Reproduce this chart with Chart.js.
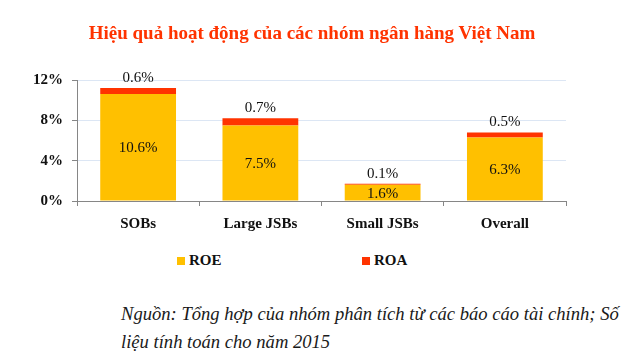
<!DOCTYPE html>
<html>
<head>
<meta charset="utf-8">
<script src="https://cdn.jsdelivr.net/npm/chart.js@4.4.1/dist/chart.umd.min.js"></script>
<style>
  html, body { margin: 0; padding: 0; background: #ffffff; }
  #wrap { position: relative; width: 640px; height: 354px; overflow: hidden; background: #fff; }
  #title { position: absolute; left: 0; top: 22px; width: 624px; text-align: center;
    font: bold 19px "Liberation Serif", "Times New Roman", serif; color: #FF3300; white-space: nowrap; }
  #chartBox { position: absolute; left: 0; top: 0; width: 640px; height: 242px; }
  #legend { position: absolute; top: 252px; left: 0; width: 640px; height: 20px;
    font: bold 15px "Liberation Serif", "Times New Roman", serif; color: #111; }
  .lg { position: absolute; display: flex; align-items: center; white-space: nowrap; }
  .lg i { display: inline-block; width: 8px; height: 8px; margin-right: 4px; }
  #note { position: absolute; left: 121px; top: 300px; width: 514px;
    font-family: "Liberation Serif", "Times New Roman", serif; font-style: italic; font-size: 18.6px;
    color: #1a1a1a; line-height: 28px; }
</style>
</head>
<body>
<div id="wrap">
  <div id="chartBox"><canvas id="c" width="640" height="242"></canvas></div>
  <div id="title">Hiệu quả hoạt động của các nhóm ngân hàng Việt Nam</div>
  <div id="legend"></div>
  <div id="note">Nguồn: Tổng hợp của nhóm phân tích từ các báo cáo tài chính; Số liệu tính toán cho năm 2015</div>
</div>
<script>
const categories = ["SOBs", "Large JSBs", "Small JSBs", "Overall"];
const roeValues = [10.6, 7.5, 1.6, 6.3];
const roaValues = [0.6, 0.7, 0.1, 0.5];
const yTicks = [0, 4, 8, 12];
const seriesNames = ["ROE", "ROA"];
const seriesColors = ["#FFC000", "#FF3300"];

const SERIF = '"Liberation Serif", "Times New Roman", serif';

const valueLabels = {
  id: 'valueLabels',
  afterDatasetsDraw(chart) {
    const ctx = chart.ctx;
    ctx.save();
    ctx.font = '15px ' + SERIF;
    ctx.fillStyle = '#111';
    ctx.textAlign = 'center';
    ctx.textBaseline = 'middle';
    const m0 = chart.getDatasetMeta(0);
    const m1 = chart.getDatasetMeta(1);
    m0.data.forEach((el, i) => {
      const v = chart.data.datasets[0].data[i];
      ctx.fillText(v.toFixed(1) + '%', el.x, (el.y + el.base) / 2 + 1);
    });
    m1.data.forEach((el, i) => {
      const v = chart.data.datasets[1].data[i];
      ctx.fillText(v.toFixed(1) + '%', el.x, el.y - 10);
    });
    ctx.restore();
  }
};

function build() {
  const chart = new Chart(document.getElementById('c'), {
    type: 'bar',
    data: {
      labels: categories,
      datasets: [
        { label: seriesNames[0], data: roeValues, backgroundColor: seriesColors[0], borderWidth: 0,
          categoryPercentage: 1.0, barPercentage: 0.62 },
        { label: seriesNames[1], data: roaValues, backgroundColor: seriesColors[1], borderWidth: 0,
          categoryPercentage: 1.0, barPercentage: 0.62 }
      ]
    },
    options: {
      responsive: false,
      animation: false,
      devicePixelRatio: 1,
      layout: { padding: { top: 80, left: 30, right: 74, bottom: 0 } },
      plugins: {
        legend: { display: false },
        title: { display: false },
        tooltip: { enabled: false }
      },
      scales: {
        x: {
          stacked: true,
          offset: true,
          grid: { display: true, offset: true, drawOnChartArea: false, drawTicks: true,
                  tickLength: 5, tickColor: '#868686' },
          border: { display: true, color: '#868686', width: 1 },
          ticks: { color: '#111', font: { family: SERIF, size: 15, weight: 'bold' }, padding: 9 }
        },
        y: {
          stacked: true,
          min: 0, max: 12,
          afterBuildTicks: s => { s.ticks = yTicks.map(v => ({ value: v })); },
          afterFit: s => { s.width = 47; },
          grid: { color: '#DCE6F4', lineWidth: 1, drawTicks: true, tickLength: 5, tickColor: '#868686' },
          border: { display: true, color: '#868686', width: 1 },
          ticks: { color: '#111', font: { family: SERIF, size: 15, weight: 'bold' }, padding: 9,
                   callback: v => v + '%' }
        }
      }
    },
    plugins: [valueLabels]
  });

  const lg = document.getElementById('legend');
  const legendX = [177, 362];
  chart.data.datasets.forEach((ds, i) => {
    const d = document.createElement('div');
    d.className = 'lg';
    d.style.left = legendX[i] + 'px';
    d.innerHTML = '<i style="background:' + ds.backgroundColor + '"></i>' + ds.label;
    lg.appendChild(d);
  });
}

Promise.all([
  document.fonts.load('bold 15px "Liberation Serif"'),
  document.fonts.load('15px "Liberation Serif"'),
  document.fonts.load('italic 17px "Liberation Serif"')
]).then(build, build);
</script>
</body>
</html>
